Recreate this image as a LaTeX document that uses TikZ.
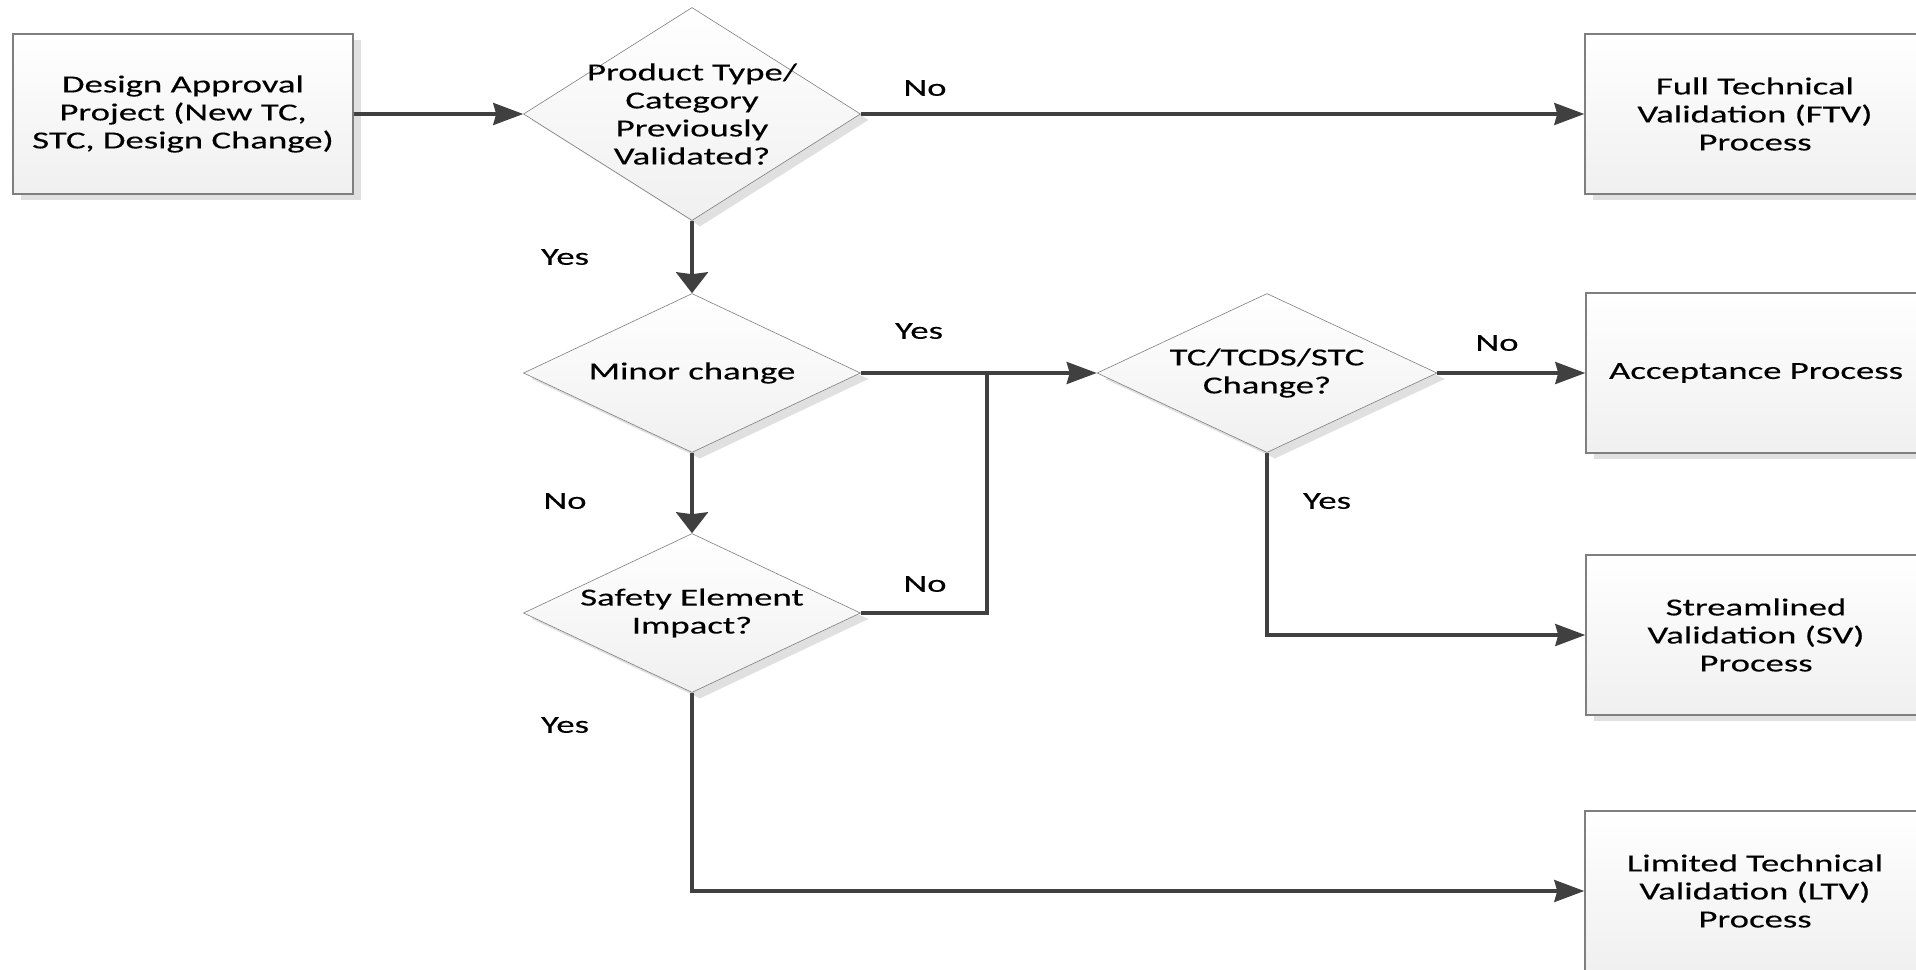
\documentclass[tikz,border=0pt]{standalone}
\usepackage{fontspec}
\setmainfont{Carlito}[FakeStretch=1.5,FakeBold=0.25]
\usetikzlibrary{shapes.geometric,arrows.meta,shadows}
\definecolor{linegray}{HTML}{404040}
\definecolor{edgegray}{HTML}{7F7F7F}
\begin{document}
\begin{tikzpicture}[x=1pt,y=-1pt]
   \tikzset{every node/.style={font=\fontsize{24.5}{28}\selectfont}}
   \tikzset{procbox/.style={rectangle,draw=edgegray,line width=1.5pt,top color=white,bottom color=black!6,
         minimum width=340pt,minimum height=160pt,align=center,inner sep=0pt,
         drop shadow={shadow xshift=8pt,shadow yshift=-6pt,fill=black!12,opacity=1}}}
   \tikzset{decision/.style={diamond,draw=edgegray,line width=0.6pt,top color=white,bottom color=black!6,
         minimum width=337pt,minimum height=159pt,inner sep=0pt,
         drop shadow={shadow xshift=8pt,shadow yshift=-6pt,fill=black!12,opacity=1}}}
   \tikzset{conn/.style={draw=linegray,line width=3.2pt}}
   \tikzset{flow/.style={conn,-{Stealth[length=30pt,width=22pt,inset=3pt]}}}
   \tikzset{flowdown/.style={conn,-{Stealth[length=21pt,width=32pt,inset=2pt]}}}
   \useasboundingbox (0,0) rectangle (1916,969);
   \node[procbox] (dap) at (183,114) {Design Approval\\Project (New TC,\\STC, Design Change)};
   \node[decision,label={[align=center]center:Product Type/\\Category\\Previously\\Validated?},minimum height=213pt] (prodq) at (692,114) {};
   \node[procbox] (ftv) at (1755,114) {Full Technical\\Validation (FTV)\\Process};
   \node[decision,label={[align=center]center:Minor change}] (minorq) at (692,373) {};
   \node[decision,label={[align=center]center:TC/TCDS/STC\\Change?},minimum width=340pt] (tcdsq) at (1267,373) {};
   \node[procbox] (accept) at (1756,373) {Acceptance Process};
   \node[decision,label={[align=center]center:Safety Element\\Impact?}] (safetyq) at (692,613) {};
   \node[procbox] (sv) at (1756,635) {Streamlined\\Validation (SV)\\Process};
   \node[procbox] (ltv) at (1755,891) {Limited Technical\\Validation (LTV)\\Process};
   \coordinate (merge) at (987,373);
   \draw[flow] (dap.east) -- (prodq.west);
   \draw[flow] (prodq.east) -- (ftv.west);
   \draw[flowdown] (prodq.south) -- (minorq.north);
   \draw[flow] (minorq.east) -- (tcdsq.west);
   \draw[flowdown] (minorq.south) -- (safetyq.north);
   \draw[conn] (safetyq.east) -| (merge);
   \draw[flow] (tcdsq.east) -- (accept.west);
   \draw[flow] (tcdsq.south) |- (sv.west);
   \draw[flow] (safetyq.south) |- (ltv.west);
   \node (lbno1) at (925,88) {No};
   \node (lbyes1) at (565,257) {Yes};
   \node (lbyes2) at (919,331) {Yes};
   \node (lbno2) at (1497,343) {No};
   \node (lbno3) at (565,501) {No};
   \node (lbno4) at (925,584) {No};
   \node (lbyes3) at (1327,501) {Yes};
   \node (lbyes4) at (565,725) {Yes};
\end{tikzpicture}
\end{document}
